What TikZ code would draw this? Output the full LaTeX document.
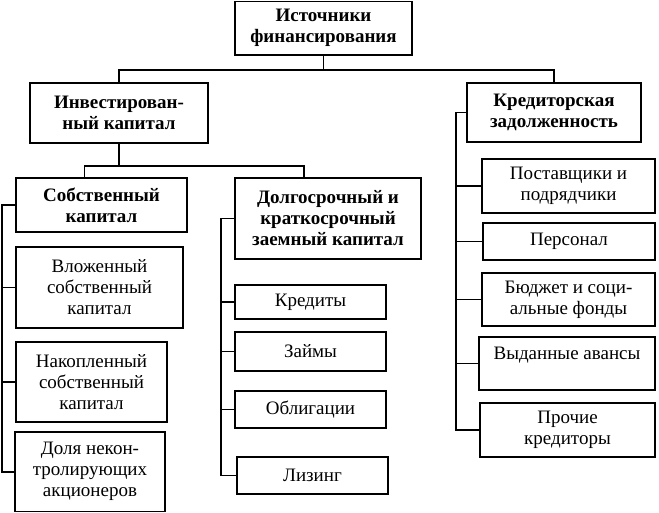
\documentclass[tikz,border=0pt]{standalone}
\usepackage{fontspec}
\setmainfont{Liberation Serif}
\usepackage{tikz}
\tikzset{box/.style={draw, line width=1.6pt, inner sep=0pt, align=center, font=\fontsize{19}{21}\selectfont},
         head/.style={box, font=\fontsize{19}{21}\selectfont\bfseries},
         wire/.style={line width=1.6pt}}
\newcommand{\blk}[6]{\node[box, minimum width={#4-#2}, minimum height={#5-#3}] (#1) at ({(#2+#4)/2},{(#3+#5)/2}) {#6};}
\newcommand{\hblk}[6]{\node[head, minimum width={#4-#2}, minimum height={#5-#3}] (#1) at ({(#2+#4)/2},{(#3+#5)/2}) {#6};}

\begin{document}
\begin{tikzpicture}[x=1pt,y=-1pt]
        \useasboundingbox (0,0) rectangle (659,513);
        % top
        \hblk{src}{235}{1.5}{412}{55}{Источники\\финансирования}
        % level 2
        \hblk{inv}{30}{83}{208}{143}{Инвестирован-\\ный капитал}
        \hblk{kred}{467}{83}{641}{142}{Кредиторская\\задолженность}
        % level 3
        \hblk{own}{16}{178}{187}{232}{Собственный\\капитал}
        \hblk{loan}{235}{178}{421}{259}{Долгосрочный и\\краткосрочный\\заемный капитал}

        % own capital
        \blk{vloz}{16}{247}{183}{328}{Вложенный\\собственный\\капитал}
        \blk{nakop}{16}{342}{167}{422}{Накопленный\\собственный\\капитал}
        \blk{dolya}{15}{432}{165}{511.5}{Доля некон-\\тролирующих\\акционеров}

        % borrowed capital
        \blk{kredity}{235}{285}{386}{319}{Кредиты}
        \blk{zaimy}{235}{332}{386}{371}{Займы}
        \blk{oblig}{235}{391}{386}{428}{Облигации}
        \blk{lizing}{237}{457}{388}{494}{Лизинг}

        % accounts payable
        \blk{postav}{482}{159}{655}{213}{Поставщики и\\подрядчики}
        \blk{pers}{483}{223}{655}{260}{Персонал}
        \blk{budg}{482}{273}{655}{326}{Бюджет и соци-\\альные фонды}
        \blk{vyd}{479}{337}{655}{390}{Выданные авансы\\\mbox{}}
        \blk{proch}{480}{403}{655}{457}{Прочие\\кредиторы}

        % links top
        \draw[wire] (src.south) -- ++(0,14) coordinate (j1);
        \draw[wire] (j1) -| (inv.north);
        \draw[wire] (j1) -| (kred.north);
        \draw[wire] (inv.south) -- ++(0,22) coordinate (j2);
        \draw[wire] (j2) -| ([xshift=-17pt]own.north);
        \draw[wire] (j2) -| ([xshift=-24pt]loan.north);

        % spines
        \coordinate (s1) at ([xshift=-13pt]own.west);
        \draw[wire] (own.west) -- (s1) |- (dolya.west);
        \foreach \b in {vloz,nakop} \draw[wire] (s1 |- \b.west) -- (\b.west);
        \coordinate (s2) at ([xshift=-13pt]loan.west);
        \draw[wire] (loan.west) -- (s2) |- (lizing.west);
        \foreach \b in {kredity,zaimy,oblig} \draw[wire] (s2 |- \b.west) -- (\b.west);
        \coordinate (s3) at ([xshift=-10pt]kred.west);
        \draw[wire] (kred.west) -- (s3) |- (proch.west);
        \foreach \b in {postav,pers,budg,vyd} \draw[wire] (s3 |- \b.west) -- (\b.west);
\end{tikzpicture}
\end{document}
